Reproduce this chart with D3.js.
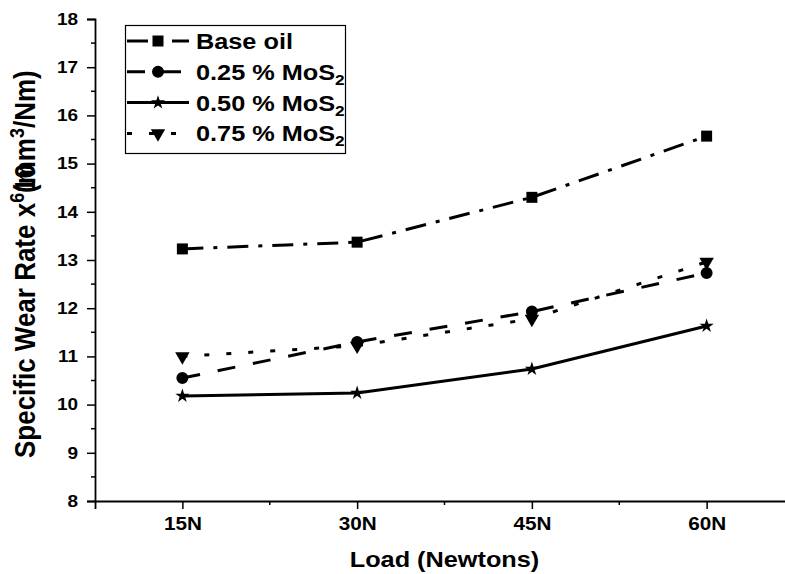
<!DOCTYPE html>
<html>
<head>
<meta charset="utf-8">
<script src="https://cdn.jsdelivr.net/npm/d3@7"></script>
<style>
  body { margin: 0; background: #fff; }
  svg text { font-family: "Liberation Sans", Arial, sans-serif; font-weight: bold; fill: #000; }
</style>
</head>
<body>
<svg></svg>
<script>
// chart data
let loads = ['15N', '30N', '45N', '60N'];
let baseOil = [13.23, 13.37, 14.30, 15.57];
let mos025 = [10.55, 11.30, 11.93, 12.73];
let mos050 = [10.18, 10.24, 10.74, 11.63];
let mos075 = [11.00, 11.22, 11.78, 12.96];
let yTicks = [8, 9, 10, 11, 12, 13, 14, 15, 16, 17, 18];

let width = 785;
let height = 574;
let stretch = 1.15; // the picture's text is a little wide

let svg = d3.select('svg')
    .attr('width', width)
    .attr('height', height);

// scales
let xScale = d3.scaleLinear()
    .domain([-0.5, 3.5])
    .range([95, 794]);

let yScale = d3.scaleLinear()
    .domain([8, 18])
    .range([501, 19]);

// series: name, values, dash pattern, marker
let series = [
    { name: 'Base oil', values: baseOil, dash: '21,10,4,10', symbol: d3.symbolSquare, size: 121, rot: 0 },
    { name: '0.25 % MoS', sub: '2', values: mos025, dash: '18,18', symbol: d3.symbolCircle, size: 113, rot: 0 },
    { name: '0.50 % MoS', sub: '2', values: mos050, dash: null, symbol: d3.symbolStar, size: 62, rot: 0 },
    { name: '0.75 % MoS', sub: '2', values: mos075, dash: '5,17', symbol: d3.symbolTriangle, size: 90, rot: 180 }
];

// y axis
let yAxis = d3.axisLeft(yScale)
    .tickValues(yTicks)
    .tickFormat(d3.format('d'))
    .tickSize(8)
    .tickPadding(9);

let yG = svg.append('g')
    .attr('transform', `translate(${xScale(-0.5)},0)`)
    .call(yAxis);

// minor y ticks
yG.selectAll('.minor')
    .data(d3.range(8.5, 18, 1))
    .enter()
    .append('line')
    .attr('class', 'minor')
    .attr('x1', -4)
    .attr('x2', 0)
    .attr('y1', d => yScale(d))
    .attr('y2', d => yScale(d))
    .attr('stroke', '#000')
    .attr('stroke-width', 1.5);

// x axis
let xAxis = d3.axisBottom(xScale)
    .tickValues([0, 1, 2, 3])
    .tickFormat(i => loads[i])
    .tickSize(8)
    .tickPadding(8.5);

let xG = svg.append('g')
    .attr('transform', `translate(0,${yScale(8)})`)
    .call(xAxis);

xG.selectAll('.minor')
    .data([0.5, 1.5, 2.5])
    .enter()
    .append('line')
    .attr('class', 'minor')
    .attr('x1', d => xScale(d))
    .attr('x2', d => xScale(d))
    .attr('y1', 0)
    .attr('y2', 4)
    .attr('stroke', '#000')
    .attr('stroke-width', 1.5);

// axis styling
svg.selectAll('.domain').attr('stroke', '#000').attr('stroke-width', 1.8);
svg.selectAll('.tick line').attr('stroke', '#000').attr('stroke-width', 1.5);

yG.selectAll('.tick text')
    .attr('font-size', 16.5)
    .attr('x', -17 / stretch)
    .attr('transform', `scale(${stretch},1)`);

xG.selectAll('.tick text')
    .attr('font-size', 18)
    .attr('transform', `scale(${stretch},1)`);

// lines
let line = d3.line()
    .x((d, i) => xScale(i))
    .y(d => yScale(d));

svg.selectAll('.series-line')
    .data(series)
    .enter()
    .append('path')
    .attr('class', 'series-line')
    .attr('d', s => line(s.values))
    .attr('fill', 'none')
    .attr('stroke', '#000')
    .attr('stroke-width', 3)
    .attr('stroke-dasharray', s => s.dash);

// markers
series.forEach(function(s) {
    svg.append('g')
        .selectAll('path')
        .data(s.values)
        .enter()
        .append('path')
        .attr('d', d3.symbol().type(s.symbol).size(s.size))
        .attr('transform', (d, i) => `translate(${xScale(i)},${yScale(d)}) rotate(${s.rot})`)
        .attr('fill', '#000');
});

// legend
let legend = svg.append('g');
legend.append('rect')
    .attr('x', 125.5)
    .attr('y', 25.5)
    .attr('width', 220)
    .attr('height', 128)
    .attr('fill', '#fff')
    .attr('stroke', '#000')
    .attr('stroke-width', 1.2);

series.forEach(function(s, i) {
    let cy = 41 + i * 30.8;
    legend.append('line')
        .attr('x1', 127)
        .attr('x2', 189)
        .attr('y1', cy)
        .attr('y2', cy)
        .attr('stroke', '#000')
        .attr('stroke-width', 3)
        .attr('stroke-dasharray', s.dash);
    legend.append('path')
        .attr('d', d3.symbol().type(s.symbol).size(s.size)())
        .attr('transform', `translate(158,${cy}) rotate(${s.rot})`)
        .attr('fill', '#000');
    let t = legend.append('text')
        .attr('transform', `translate(196,${cy + 8}) scale(${stretch},1)`)
        .attr('font-size', 22)
        .text(s.name);
    if (s.sub) {
        t.append('tspan')
            .attr('font-size', 15)
            .attr('dy', 5)
            .text(s.sub);
    }
});

// axis titles
svg.append('text')
    .attr('transform', `translate(${(xScale(-0.5) + xScale(3.5)) / 2},567) scale(${stretch},1)`)
    .attr('text-anchor', 'middle')
    .attr('font-size', 22)
    .text('Load (Newtons)');

let yTitle = svg.append('text')
    .attr('transform', `translate(35,458) rotate(-90) scale(1,${stretch})`)
    .attr('font-size', 26);
yTitle.append('tspan').text('Specific Wear Rate x');
yTitle.append('tspan').attr('font-size', 18).attr('dy', -10).text('6');
yTitle.append('tspan').attr('dy', 10).text('10');
yTitle.append('tspan').attr('dx', -29).text('(m');
yTitle.append('tspan').text('m');
yTitle.append('tspan').attr('font-size', 18).attr('dy', -10).text('3');
yTitle.append('tspan').attr('dy', 10).text('/Nm)');
</script>
</body>
</html>
